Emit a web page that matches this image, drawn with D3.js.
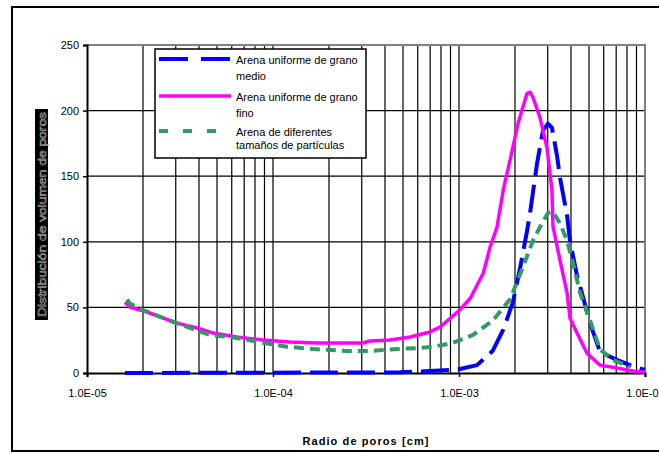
<!DOCTYPE html>
<html>
<head>
<meta charset="utf-8">
<script src="https://cdn.jsdelivr.net/npm/d3@7"></script>
<style>
  body { margin: 0; background: #fff; }
  svg { display: block; font-family: "Liberation Sans", Arial, sans-serif; }
</style>
</head>
<body>
<div id="container"></div>
<script>
// radio de poros [cm] / valor
const medioR = [1.6e-5, 4.82e-4, 6.98e-4, 9.75e-4, 1.25e-3, 1.52e-3, 1.73e-3, 1.95e-3, 2.13e-3, 2.32e-3, 2.41e-3, 2.63e-3, 2.83e-3, 3.01e-3, 3.16e-3, 3.37e-3, 3.49e-3, 3.81e-3, 3.95e-3, 4.31e-3, 4.58e-3, 5.06e-3, 5.73e-3, 7.06e-3, 8.3e-3, 1.0e-2];
const medioV = [0, 0.5, 1.5, 2.5, 6, 17, 33, 54, 80, 108, 122, 160, 185, 190, 187, 165, 149, 120, 101, 74, 61, 38, 16, 10, 6, 2.3];

const finoR = [1.6e-5, 1.7e-5, 2.1e-5, 3.05e-5, 3.9e-5, 4.76e-5, 6.4e-5, 8.83e-5, 1.23e-4, 1.73e-4, 3.05e-4, 3.32e-4, 4.26e-4, 5.46e-4, 6.98e-4, 7.91e-4, 1.01e-3, 1.15e-3, 1.35e-3, 1.47e-3, 1.6e-3, 1.73e-3, 1.88e-3, 2.08e-3, 2.32e-3, 2.41e-3, 2.5e-3, 2.72e-3, 2.97e-3, 3.16e-3, 3.2e-3, 3.49e-3, 3.81e-3, 3.95e-3, 4.31e-3, 4.88e-3, 5.73e-3, 7.06e-3, 8.61e-3, 1.0e-2];
const finoV = [54, 50.3, 46.5, 38, 34.3, 30.5, 27.4, 25.2, 23.6, 22.9, 22.9, 24.4, 25.2, 27.4, 31.3, 35, 48, 57, 76, 96, 111, 139.5, 162, 190.5, 213, 214, 210, 195, 172, 139.5, 112, 86, 61, 42, 30.5, 15, 6, 3.8, 1.5, 0.5];

const difR = [1.64e-5, 1.7e-5, 2.0e-5, 2.9e-5, 4.58e-5, 6.4e-5, 8.83e-5, 1.19e-4, 1.64e-4, 2.5e-4, 3.32e-4, 4.26e-4, 5.94e-4, 7.25e-4, 9.29e-4, 1.19e-3, 1.52e-3, 1.88e-3, 2.21e-3, 2.5e-3, 2.72e-3, 3.01e-3, 3.2e-3, 3.49e-3, 3.81e-3, 4.1e-3, 4.48e-3, 5.06e-3, 5.73e-3, 6.73e-3, 8.3e-3];
const difV = [56, 53, 48, 39, 29, 26.7, 23, 20, 18.3, 16.8, 16.8, 18, 19, 20, 23, 29, 40, 56, 81, 101, 111, 122, 123, 114, 101, 84, 61, 40, 18, 10, 4.6];

const yTicks = [0, 50, 100, 150, 200, 250];
const xMajors = [1e-5, 1e-4, 1e-3, 1e-2];
const xTickLabels = ["1.0E-05", "1.0E-04", "1.0E-03", "1.0E-02"];

const series = [
  { name: ["Arena uniforme de grano", "medio"], r: medioR, v: medioV, color: "#0000ff", width: 4, dash: "28,9", legendDash: "29,13" },
  { name: ["Arena uniforme de grano", "fino"], r: finoR, v: finoV, color: "#ff00ff", width: 3.5, dash: null, legendDash: null },
  { name: ["Arena de diferentes", "tamaños de partículas"], r: difR, v: difV, color: "#339966", width: 4, dash: "10,6", legendDash: "9,15" }
];

const W = 659, H = 454;
const plot = { left: 87, right: 645, top: 45, bottom: 373 };

const svg = d3.select("#container").append("svg")
  .attr("width", W).attr("height", H);

svg.append("rect").attr("width", W).attr("height", H).attr("fill", "#fff");
// marco exterior
svg.append("rect")
  .attr("x", 12).attr("y", 7).attr("width", 670).attr("height", 444)
  .attr("fill", "none").attr("stroke", "#000").attr("stroke-width", 2);

const x = d3.scaleLog().domain([1e-5, 1e-2]).range([plot.left, plot.right]);
const y = d3.scaleLinear().domain([0, 250]).range([plot.bottom, plot.top]);

// líneas de división verticales (todas las décadas)
const minorTicks = [];
for (let e = -5; e < -2; e++) {
  for (let k = 1; k < 10; k++) minorTicks.push(k * Math.pow(10, e));
}
const grid = svg.append("g");
grid.selectAll("line.v").data(minorTicks.filter(d => d > 1e-5)).join("line")
  .attr("x1", d => x(d)).attr("x2", d => x(d))
  .attr("y1", plot.top).attr("y2", plot.bottom)
  .attr("stroke", "#000").attr("stroke-width", 1.2);
grid.selectAll("line.h").data(yTicks.filter(d => d > 0 && d < 250)).join("line")
  .attr("x1", plot.left).attr("x2", plot.right)
  .attr("y1", d => y(d)).attr("y2", d => y(d))
  .attr("stroke", "#000").attr("stroke-width", 1.2);

// borde gris superior y derecho
svg.append("path")
  .attr("d", `M${plot.left},${plot.top}H${plot.right}V${plot.bottom}`)
  .attr("fill", "none").attr("stroke", "#808080").attr("stroke-width", 2);

// ejes
const yAxis = svg.append("g")
  .attr("transform", `translate(${plot.left},0)`)
  .call(d3.axisLeft(y).tickValues(yTicks).tickSize(4).tickPadding(4));
const xAxis = svg.append("g")
  .attr("transform", `translate(0,${plot.bottom})`)
  .call(d3.axisBottom(x).tickValues(xMajors).tickSize(4).tickPadding(12)
    .tickFormat((d, i) => xTickLabels[i]));
[yAxis, xAxis].forEach(a => {
  a.select(".domain").attr("stroke", "#000").attr("stroke-width", 2);
  a.selectAll(".tick line").attr("stroke", "#000").attr("stroke-width", 1.5);
  a.selectAll("text").attr("font-size", 11).attr("fill", "#000")
    .attr("font-family", "Liberation Sans, Arial, sans-serif");
});

// curvas
const line = d3.line().x(d => x(d[0])).y(d => y(d[1]));
series.forEach(s => {
  svg.append("path")
    .datum(s.r.map((r, i) => [r, s.v[i]]))
    .attr("d", line)
    .attr("fill", "none")
    .attr("stroke", s.color)
    .attr("stroke-width", s.width)
    .attr("stroke-linejoin", "round")
    .attr("stroke-dasharray", s.dash);
});

// leyenda
const lg = svg.append("g");
lg.append("rect")
  .attr("x", 155).attr("y", 49).attr("width", 211).attr("height", 109)
  .attr("fill", "#fff").attr("stroke", "#000").attr("stroke-width", 1.5);
const legendY = [59, 96, 131];
series.forEach((s, i) => {
  lg.append("line")
    .attr("x1", 159).attr("x2", 231)
    .attr("y1", legendY[i]).attr("y2", legendY[i])
    .attr("stroke", s.color).attr("stroke-width", s.width)
    .attr("stroke-dasharray", s.legendDash);
  const t = lg.append("text")
    .attr("x", 236).attr("y", legendY[i] + 5)
    .attr("font-size", 11);
  t.append("tspan").attr("x", 236).text(s.name[0]);
  t.append("tspan").attr("x", 236).attr("dy", i === 2 ? 13 : 16).text(s.name[1]);
});

// título eje x
svg.append("text")
  .attr("x", (plot.left + plot.right) / 2).attr("y", 445)
  .attr("text-anchor", "middle")
  .attr("font-size", 11).attr("font-weight", "bold").attr("letter-spacing", 1.1)
  .text("Radio de poros [cm]");

// título eje y (se ve como bloque negro)
svg.append("rect")
  .attr("x", 35).attr("y", 109).attr("width", 13).attr("height", 211)
  .attr("fill", "#000");
svg.append("text")
  .attr("transform", "translate(45.5,214.5) rotate(-90)")
  .attr("text-anchor", "middle")
  .attr("font-size", 11)
  .attr("fill", "#000").attr("stroke", "#9a9a9a").attr("stroke-width", 0.6)
  .attr("textLength", 205).attr("lengthAdjust", "spacingAndGlyphs")
  .text("Distribución de volumen de poros");
</script>
</body>
</html>
